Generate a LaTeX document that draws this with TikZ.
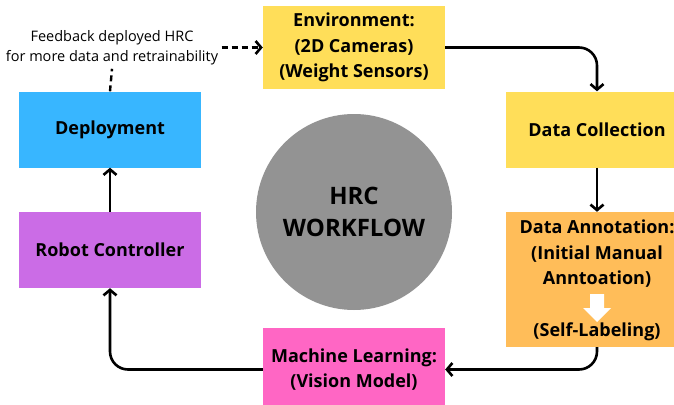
\documentclass[tikz,border=0pt]{standalone}
\usepackage{fontspec}
\setmainfont{Open Sans}
\usetikzlibrary{positioning,arrows.meta}
\definecolor{envcolor}{RGB}{255,222,89}
\definecolor{annotcolor}{RGB}{255,189,89}
\definecolor{mlcolor}{RGB}{255,102,196}
\definecolor{robotcolor}{RGB}{203,108,230}
\definecolor{deploycolor}{RGB}{56,182,255}
\definecolor{hubcolor}{RGB}{147,147,147}

\begin{document}
\begin{tikzpicture}[x=1pt,y=-1pt,
    stage/.style={rectangle, minimum width=182pt, minimum height=76pt, inner sep=0pt, align=center, font=\bfseries\fontsize{18}{25.5}\selectfont},
    flow/.style={-{Straight Barb[length=5.5pt,width=13pt]}, line width=2.6pt, rounded corners=18pt},
    small/.style={font=\fontsize{14.5}{20}\selectfont, align=center}
]
\useasboundingbox (0,0) rectangle (674,404);

\node[stage, fill=envcolor, minimum height=83pt] (env) at (354,47.5) {Environment:\\(2D Cameras)\\(Weight Sensors)};
\node[stage, fill=envcolor] (collect) at (597,129.5) {Data Collection};
\node[stage, fill=annotcolor, minimum height=135pt] (annot) at (597,279.5) {};
\node[stage, fill=mlcolor, minimum height=83pt] (ml) at (354,369.5) {Machine Learning:\\(Vision Model)};
\node[stage, fill=robotcolor] (robot) at (110,250) {Robot Controller};
\node[stage, fill=deploycolor] (deploy) at (110,129.5) {Deployment};

% inside the annotation box
\node[stage, minimum height=0pt, minimum width=0pt] (annottext) at (597,254) {Data Annotation:\\(Initial Manual\\Anntoation)};
\fill[white] (590,294) -- (604,294) -- (604,308) -- (611,308) -- (597,322) -- (583,308) -- (590,308) -- cycle;
\node[stage, minimum height=0pt, minimum width=0pt] (selflabel) at (597,332) {(Self-Labeling)};

\node[circle, fill=hubcolor, minimum size=196pt, align=center, font=\bfseries\fontsize{24}{32}\selectfont] (hub) at (354,212) {HRC\\WORKFLOW};

\node[small] (feedback) at (112,48) {Feedback deployed HRC\\for more data and retrainability};

\draw[flow] (env.east) -- (collect.north |- env.east) -- (collect.north);
\draw[flow] (collect) -- (annot);
\draw[flow] (annot.south) -- (annot.south |- ml.east) -- (ml.east);
\draw[flow] (ml.west) -- (robot.south |- ml.west) -- (robot.south);
\draw[flow] (robot) -- (deploy);
\draw[line width=2.4pt, dash pattern=on 6pt off 4pt] (deploy.north) -- (feedback.south);
\draw[flow, dash pattern=on 6pt off 4pt] (feedback.east |- env.west) -- (env.west);
\end{tikzpicture}
\end{document}
